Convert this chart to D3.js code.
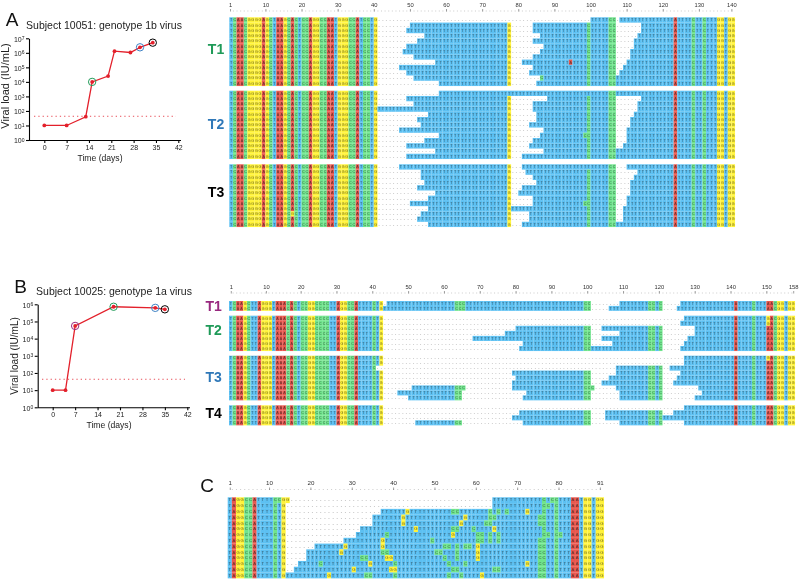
<!DOCTYPE html>
<html><head><meta charset="utf-8">
<script src="https://cdn.jsdelivr.net/npm/d3@7"></script>
<style>
html,body{margin:0;padding:0;background:#fff}
svg{display:block;font-family:"Liberation Sans",Arial,sans-serif;filter:blur(0.35px)}
</style></head><body>
<svg id="c" width="800" height="579" viewBox="0 0 800 579"></svg>
<script>
// ---------- Viral-load data ----------
const daysA = [0,7,13,15,20,22,27,30,34];
const loadA = [10,10,40,1e4,2.5e4,1.3e6,1.05e6,2.4e6,5e6];
const daysB = [0,4,7,19,32,35];
const loadB = [10,10,5.5e4,7.2e5,6.2e5,5.1e5];
const lod = 43;
const dayTicks = [0,7,14,21,28,35,42];
const circledA = [[15,1e4,"T1"],[30,2.4e6,"T2"],[34,5e6,"T3"]];
const circledB = [[7,5.5e4,"P"],[19,7.2e5,"T1"],[32,6.2e5,"T2"],[35,5.1e5,"T3"]];

// ---------- Alignment data: consensus head, marked columns, gaps and substitutions per row ----------
const headA = "TCAACGGGGAGCTAAGCACTCCAGGCCAATGGGCCATCCTG";
const spotsA = [[78,"G"],[100,"C"],[106,"C"],[107,"C"],[124,"A"],[129,"C"],[132,"C"],[136,"G"],[137,"G"],[139,"G"],[140,"G"]];
const ticksA = [0.2,10,20,30,40,50,60,70,80,90,100,110,120,130,139];
const tickLabelsA = [1,10,20,30,40,50,60,70,80,90,100,110,120,130,140];
const gapsA1 = [
 [[42,100],[108,108]],
 [[42,50],[79,84],[108,114]],
 [[42,49],[79,84],[108,114]],
 [[42,54],[79,86],[108,113]],
 [[42,52],[79,84],[108,112]],
 [[42,49],[79,87],[108,112]],
 [[42,48],[79,86],[108,111]],
 [[42,51],[79,84],[108,111]],
 [[42,57],[79,81],[108,110]],
 [[42,47],[79,84],[108,109]],
 [[42,49],[79,83],[108,108]],
 [[42,51],[79,86]],
 [[42,58],[79,85]]
];
const subsA1 = [[],[],[],[],[],[],[],[],[[95,"A"]],[],[],[[87,"C"]],[]];
const gapsA2 = [
 [[42,58]],
 [[42,49],[79,88],[108,114]],
 [[42,51],[79,84],[108,113]],
 [[79,84],[108,113]],
 [[42,55],[79,85],[108,112]],
 [[42,52],[79,85],[108,111]],
 [[42,53],[79,83],[108,111]],
 [[42,47],[79,87],[108,110]],
 [[42,58],[79,86],[108,110]],
 [[42,54],[79,84],[108,110]],
 [[42,49],[79,83],[108,109]],
 [[42,57],[79,87]],
 [[42,49],[79,81]]
];
const subsA2 = [[[78,"T"],[100,"T"]],[],[],[],[],[],[],[],[[99,"C"]],[],[],[],[]];
const gapsA3 = [
 [[42,47],[79,81],[108,110]],
 [[42,53],[79,82],[108,113]],
 [[42,53],[79,84],[108,112]],
 [[42,54],[79,85],[108,111]],
 [[42,52],[79,81],[108,111]],
 [[42,57],[79,80],[108,111]],
 [[42,55],[79,84],[108,110]],
 [[42,50],[79,84],[108,110]],
 [[42,55],[108,109]],
 [[42,53],[79,83],[108,109]],
 [[42,52],[79,83],[108,109]],
 [[42,55],[79,81]]
];
const subsA3 = [[[100,"T"]],[],[],[],[],[],[],[[99,"C"]],[],[[18,"G"]],[],[]];

const headB = "TCAAGCTTAGGGTAAACACTCCGGCCCCTTAGGCCATTTTCTG";
const spotsB = [[64,"C"],[65,"C"],[100,"C"],[101,"C"],[118,"C"],[119,"C"],[121,"C"],[142,"A"],[147,"C"],[151,"A"],[152,"A"],[153,"C"],[154,"G"],[155,"G"],[157,"G"],[158,"G"]];
const ticksB = [0.5,10.3,20,30,40,50,60,70,80,90,100,110,120,130,140,150,157.5];
const tickLabelsB = [1,10,20,30,40,50,60,70,80,90,100,110,120,130,140,150,158];
const gapsB1 = [
 [[44,44],[102,109],[122,126]],
 [[102,106],[122,125]]
];
const subsB1 = [[[66,"C"]],[[66,"C"]]];
const gapsB2 = [
 [[44,127]],
 [[44,126]],
 [[44,80],[102,104],[122,130]],
 [[44,77],[102,109],[122,130]],
 [[44,68],[102,104],[122,128]],
 [[44,82],[102,107],[122,127]],
 [[44,81],[122,126]]
];
const subsB2 = [[[151,"G"]],[[151,"G"]],[],[],[],[],[]];
const gapsB3 = [
 [[44,127]],
 [[44,127]],
 [[42,108],[122,123]],
 [[44,79],[102,108],[122,126]],
 [[44,80],[102,106],[122,125]],
 [[44,79],[102,104],[122,124]],
 [[44,51],[67,79],[103,108],[122,131]],
 [[44,47],[66,83],[102,109],[122,132]],
 [[44,50],[66,82],[102,109],[122,130]]
];
const subsB3 = [[[151,"G"]],[],[],[],[],[],[[66,"C"],[102,"C"]],[],[]];
const gapsB4 = [
 [[44,127]],
 [[44,81],[102,105],[122,124]],
 [[44,79],[102,105]],
 [[44,52],[66,82],[102,109],[122,127]]
];
const subsB4 = [[],[],[],[]];

const headC = "TAGGCCATTTTCTG";
const spotsC = [[77,"C"],[80,"C"],[84,"A"],[85,"A"],[87,"G"],[88,"G"],[90,"G"],[91,"G"]];
const ticksC = [0.5,10,20,30,40,50,60,70,80,90];
const tickLabelsC = [1,10,20,30,40,50,60,70,80,91];
const gapsC = [
 [[16,64]],[[15,64]],[[15,37]],[[15,35]],[[15,35]],[[15,32]],[[15,31]],
 [[15,28]],[[15,21]],[[15,19]],[[15,19]],[[15,17]],[[15,16]],[]
];
const subsC = [
 [[13,"C"],[15,"G"],[79,"C"]],
 [[78,"C"]],
 [[44,"G"],[55,"C"],[56,"C"],[64,"C"],[66,"C"],[68,"C"],[73,"G"]],
 [[43,"G"],[58,"G"],[64,"C"],[65,"C"],[76,"C"]],
 [[43,"G"],[57,"G"],[63,"C"],[64,"C"],[76,"C"]],
 [[46,"G"],[55,"C"],[56,"C"],[60,"C"],[65,"G"]],
 [[39,"C"],[55,"G"],[61,"C"],[62,"C"],[64,"C"],[66,"C"],[78,"C"],[81,"C"]],
 [[38,"G"],[50,"C"],[61,"C"],[62,"C"],[64,"C"],[66,"C"],[76,"C"]],
 [[29,"G"],[38,"G"],[53,"C"],[54,"C"],[56,"C"],[58,"C"],[59,"C"],[61,"G"],[76,"C"]],
 [[28,"G"],[38,"C"],[39,"C"],[51,"C"],[52,"C"],[56,"C"],[61,"G"],[76,"C"]],
 [[33,"C"],[34,"C"],[39,"G"],[40,"G"],[53,"C"],[56,"C"],[61,"G"],[76,"C"]],
 [[23,"C"],[35,"G"],[41,"C"],[54,"C"],[58,"C"],[73,"G"],[76,"C"]],
 [[31,"G"],[40,"G"],[41,"G"],[55,"C"],[56,"C"],[65,"C"],[66,"C"],[76,"C"]],
 [[25,"G"],[34,"C"],[35,"C"],[41,"C"],[54,"C"],[57,"C"],[62,"G"],[76,"C"]]
];

// ---------- Drawing ----------
const svg = d3.select("#c");
const baseColor = {A:"#e8574e",C:"#6fe48c",G:"#fff238",T:"#5cc0f2"};
const RED = "#e3202b";

function consensus(head, spots, n){
  const s = head.padEnd(n,"T").split("");
  spots.forEach(([c,b])=>{s[c-1]=b;});
  return s;
}
function rowCells(cons, gaps, subs){
  const sub = new Map(subs);
  return cons.map((b,i)=>{
    const col=i+1;
    const gap=gaps.some(([a,e])=>col>=a&&col<=e);
    return {col,base:gap?"-":(sub.get(col)||b)};
  });
}
function runs(cells){
  const out=[];
  cells.forEach(c=>{
    const last=out[out.length-1];
    const isGap=c.base==="-";
    if(last&&last.isGap===isGap) last.cells.push(c);
    else out.push({isGap,cells:[c]});
  });
  return out;
}
function drawAlignment(cfg){
  const {cons,x,blocks,axisY,ticks,labels}=cfg;
  const n=cons.length;
  const w=x(1)-x(0);
  const minor=svg.append("g").attr("transform",`translate(0,${axisY})`)
    .call(d3.axisTop(x).tickValues(d3.range(1,n)).tickSize(1).tickFormat(""));
  minor.select(".domain").remove();
  minor.selectAll("line").attr("stroke","#aaa").attr("stroke-width",0.6);
  const major=svg.append("g").attr("transform",`translate(0,${axisY})`)
    .call(d3.axisTop(x).tickValues(ticks).tickSize(2.5).tickPadding(2.5).tickFormat((d,i)=>labels[i]));
  major.select(".domain").remove();
  major.selectAll("line").attr("stroke","#777").attr("stroke-width",0.7);
  major.selectAll("text").attr("fill","#333").attr("font-size",cfg.tickFont||5.8).attr("font-family","Liberation Sans");
  blocks.forEach(b=>{
    const y=d3.scaleBand().domain(d3.range(b.gaps.length)).range(b.range);
    const g=svg.append("g");
    b.gaps.forEach((gaps,r)=>{
      const cells=rowCells(cons,gaps,b.subs[r]);
      const rg=g.append("g");
      rg.selectAll("rect").data(cells.filter(c=>c.base!=="-")).join("rect")
        .attr("x",c=>x(c.col-1)).attr("y",y(r))
        .attr("width",w+0.05).attr("height",y.bandwidth()+0.05)
        .attr("fill",c=>baseColor[c.base]);
      runs(cells).forEach(run=>{
        rg.append("text").attr("x",run.cells.map(c=>(x(c.col-1)+w/2).toFixed(2)).join(" "))
          .attr("y",y(r)+y.bandwidth()/2+1.3).attr("font-size",cfg.font)
          .attr("text-anchor","middle").attr("fill",run.isGap?"#999":"#1c1c1c")
          .attr("fill-opacity",run.isGap?1:0.72)
          .text(run.cells.map(c=>c.base).join(""));
      });
    });
  });
}

const xA=d3.scaleLinear().domain([0,140]).range([229.3,735]);
drawAlignment({cons:consensus(headA,spotsA,140),x:xA,axisY:11.5,ticks:ticksA,labels:tickLabelsA,font:3.7,
  blocks:[{gaps:gapsA1,subs:subsA1,range:[17.3,86]},{gaps:gapsA2,subs:subsA2,range:[90.7,159]},{gaps:gapsA3,subs:subsA3,range:[164.3,227]}]});
const xB=d3.scaleLinear().domain([0,158]).range([229,795]);
drawAlignment({cons:consensus(headB,spotsB,158),x:xB,axisY:293.5,ticks:ticksB,labels:tickLabelsB,font:3.6,
  blocks:[{gaps:gapsB1,subs:subsB1,range:[301,310.8]},{gaps:gapsB2,subs:subsB2,range:[315.7,351]},{gaps:gapsB3,subs:subsB3,range:[355.7,400.3]},{gaps:gapsB4,subs:subsB4,range:[405.3,425.3]}]});
const xC=d3.scaleLinear().domain([0,91]).range([227.7,604]);
drawAlignment({cons:consensus(headC,spotsC,91),x:xC,axisY:490,ticks:ticksC,labels:tickLabelsC,font:4.2,tickFont:6.2,
  blocks:[{gaps:gapsC,subs:subsC,range:[497.3,578.3]}]});

const GREEN="#1f9a58",BLUE="#2f78b8",PURPLE="#98287f",BLACK="#000";
const labelsT=[["T1",216,49,GREEN],["T2",216,124,BLUE],["T3",216,192,BLACK],
  ["T1",213.7,305.5,PURPLE],["T2",213.7,330,GREEN],["T3",213.7,377,BLUE],["T4",213.7,413,BLACK]];
svg.selectAll("text.tl").data(labelsT).join("text").attr("class","tl")
  .attr("x",d=>d[1]).attr("y",d=>d[2]).attr("dy","0.36em").attr("text-anchor","middle")
  .attr("font-size",14).attr("font-weight","bold").attr("fill",d=>d[3]).text(d=>d[0]);
const letters=[["A",12,19],["B",20.5,286],["C",207,485]];
svg.selectAll("text.pl").data(letters).join("text").attr("class","pl")
  .attr("x",d=>d[1]).attr("y",d=>d[2]).attr("dy","0.36em").attr("text-anchor","middle")
  .attr("font-size",19).attr("fill","#111").text(d=>d[0]);

function drawLoad(o){
  const x=d3.scaleLinear().domain([0,42]).range(o.xr);
  const y=d3.scaleLog().domain([1,o.top]).range(o.yr);
  const g=svg.append("g");
  const xa=g.append("g").attr("transform",`translate(0,${o.yr[0]})`)
    .call(d3.axisBottom(x).tickValues(dayTicks).tickSize(3).tickPadding(2).tickSizeOuter(0).tickFormat(d=>d));
  xa.select(".domain").attr("d",`M${o.axisX},0.5H${o.xEnd}`);
  const decades=d3.range(0,Math.round(Math.log10(o.top))+1);
  const ya=g.append("g").attr("transform",`translate(${o.axisX},0)`)
    .call(d3.axisLeft(y).tickValues(decades.map(d=>Math.pow(10,d))).tickSize(3).tickPadding(1.5).tickSizeOuter(0).tickFormat(""));
  ya.selectAll(".tick text").each(function(d){
    const t=d3.select(this);
    t.append("tspan").text("10");
    t.append("tspan").attr("dy","-0.35em").attr("font-size",5).text(Math.round(Math.log10(d)));
    t.attr("dy","0.4em");
  });
  [xa,ya].forEach(a=>{
    a.selectAll(".domain,line").attr("stroke","#000").attr("stroke-width",1.1);
    a.selectAll("text").attr("fill","#222").attr("font-size",7).attr("font-family","Liberation Sans");
  });
  g.append("line").attr("x1",o.lodR[0]).attr("x2",o.lodR[1]).attr("y1",y(lod)).attr("y2",y(lod))
    .attr("stroke","#e8505a").attr("stroke-width",1).attr("stroke-dasharray","1.3 3");
  const line=d3.line().x(d=>x(d[0])).y(d=>y(d[1]));
  const pts=d3.zip(o.days,o.load);
  g.append("path").attr("d",line(pts)).attr("fill","none").attr("stroke",RED).attr("stroke-width",1.3);
  g.selectAll("circle.p").data(pts).join("circle").attr("class","p")
    .attr("cx",d=>x(d[0])).attr("cy",d=>y(d[1])).attr("r",1.9).attr("fill",RED);
  const cols={P:PURPLE,T1:GREEN,T2:"#3f82c4",T3:BLACK};
  g.selectAll("circle.c").data(o.circled).join("circle").attr("class","c")
    .attr("cx",d=>x(d[0])).attr("cy",d=>y(d[1])).attr("r",3.7).attr("fill","none")
    .attr("stroke",d=>cols[d[2]]).attr("stroke-width",1);
  g.append("text").attr("x",o.title[1]).attr("y",o.title[2]).attr("dy","0.36em").attr("text-anchor","middle")
    .attr("font-size",10.5).attr("fill","#222").text(o.title[0]);
  g.append("text").attr("transform",`translate(${o.yl[0]},${o.yl[1]}) rotate(-90)`).attr("dy","0.36em")
    .attr("text-anchor","middle").attr("font-size",o.ylFont).attr("fill","#222").text("Viral load (IU/mL)");
  g.append("text").attr("x",o.xl[0]).attr("y",o.xl[1]).attr("dy","0.36em").attr("text-anchor","middle")
    .attr("font-size",8.6).attr("fill","#222").text("Time (days)");
}
drawLoad({days:daysA,load:loadA,circled:circledA,top:1e7,xr:[44.3,178.3],yr:[140,38.3],axisX:29,xEnd:181,
  lodR:[34,176],title:["Subject 10051: genotype 1b virus",104,25],yl:[5,86],xl:[100,158],ylFont:11});
drawLoad({days:daysB,load:loadB,circled:circledB,top:1e6,xr:[52.7,187.3],yr:[407.3,304.3],axisX:37.7,xEnd:190,
  lodR:[42,185],title:["Subject 10025: genotype 1a virus",114,291],yl:[14,356],xl:[109,425],ylFont:10});
</script>
</body></html>
